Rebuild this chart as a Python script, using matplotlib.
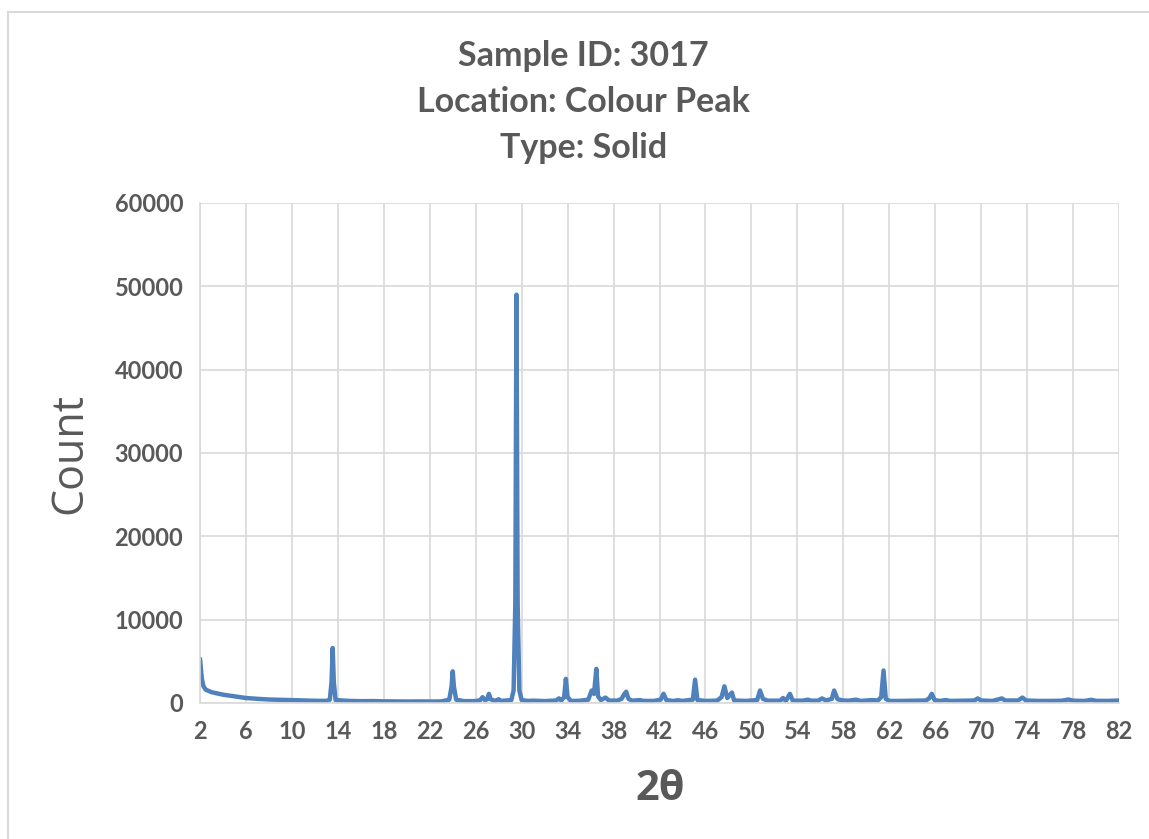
import matplotlib.pyplot as plt
from matplotlib.lines import Line2D

# diffraction trace (2theta, count)
two_theta = [2.0, 2.05, 2.15, 2.3, 2.5, 3.0, 3.5, 4.0, 4.5, 5.0, 5.5, 6.0, 7.0, 8.0, 9.0, 10.0, 11.0, 12.0, 13.0,
             13.3, 13.45, 13.55, 13.65, 13.8, 15.0, 16.0, 17.0, 18.0, 19.0, 20.0, 21.0, 22.0, 23.0,
             23.7, 23.9, 24.0, 24.1, 24.3, 25.0, 26.0, 26.4, 26.6, 26.8, 27.0, 27.15, 27.3, 27.7, 28.0, 28.2,
             29.1, 29.3, 29.45, 29.55, 29.65, 29.8, 30.0, 30.5, 31.0, 32.0, 33.0, 33.25, 33.45, 33.7, 33.85, 34.0,
             34.3, 35.0, 35.8, 36.1, 36.3, 36.5, 36.65, 36.9, 37.3, 37.6, 38.3, 38.7, 38.9, 39.1, 39.3, 39.6,
             40.3, 40.6, 41.5, 42.1, 42.35, 42.6, 43.2, 43.6, 44.0, 44.9, 45.1, 45.3, 46.0, 47.0, 47.4, 47.65,
             47.9, 48.3, 48.5, 49.5, 50.5, 50.75, 51.0, 51.4, 52.5, 52.75, 53.0, 53.35, 53.6, 54.5, 54.9, 55.2,
             55.8, 56.15, 56.5, 57.0, 57.2, 57.5, 58.0, 58.5, 59.1, 59.5, 60.0, 60.5, 61.0, 61.3, 61.5, 61.7,
             62.0, 63.0, 64.0, 65.2, 65.5, 65.7, 65.95, 66.4, 66.9, 67.3, 68.5, 69.4, 69.7, 70.0, 71.0, 71.8,
             72.1, 73.2, 73.6, 73.9, 75.0, 76.0, 77.0, 77.6, 78.0, 79.0, 79.6, 80.0, 81.0, 82.0]
counts = [5300, 4600, 3000, 2000, 1600, 1300, 1150, 1000, 900, 800, 700, 600, 500, 420, 380, 330, 300, 270, 250,
          400, 2500, 6600, 2500, 350, 250, 220, 230, 200, 190, 180, 190, 180, 190,
          400, 2000, 3800, 2000, 400, 220, 230, 350, 700, 350, 450, 1100, 450, 250, 450, 250,
          350, 1500, 12000, 49000, 12000, 1500, 350, 250, 280, 230, 300, 550, 300, 700, 2900, 700,
          250, 260, 400, 1500, 1100, 4100, 800, 350, 650, 300, 280, 500, 1000, 1350, 500, 280,
          350, 250, 250, 400, 1100, 350, 250, 330, 250, 400, 2800, 350, 250, 280, 700, 2000,
          600, 1250, 300, 250, 350, 1500, 500, 280, 280, 600, 250, 1100, 280, 280, 400, 280,
          280, 550, 300, 500, 1500, 450, 300, 280, 400, 250, 300, 350, 300, 700, 3900, 500,
          250, 250, 270, 300, 600, 1100, 350, 250, 350, 250, 280, 300, 550, 300, 250, 550,
          300, 300, 650, 300, 250, 250, 270, 420, 280, 250, 380, 260, 250, 300]

x_ticks = list(range(2, 83, 4))
y_ticks = list(range(0, 60001, 10000))

grey = '#595959'
grid = '#d9d9d9'
fam = ['Lato', 'DejaVu Sans']

fig = plt.figure(figsize=(11.49, 8.39), dpi=100)
ax = fig.add_axes([200 / 1149, 1 - 703 / 839, 919 / 1149, 500 / 839])

ax.plot(two_theta, counts, color='#4f81bd', lw=3.2, solid_joinstyle='round', solid_capstyle='round')

ax.set_xlim(2, 82)
ax.set_ylim(0, 60000)
ax.set_xticks(x_ticks)
ax.set_yticks(y_ticks)
ax.grid(True, color=grid, lw=1.2)
ax.set_axisbelow(True)
ax.tick_params(length=0, labelsize=17, labelcolor=grey, pad=12)
for lab in ax.get_xticklabels() + ax.get_yticklabels():
    lab.set_fontweight('bold')
    lab.set_family(fam)
for s in ['top', 'right']:
    ax.spines[s].set_visible(False)
for s in ['left', 'bottom']:
    ax.spines[s].set_color(grid)
    ax.spines[s].set_linewidth(1.2)

fig.text(0.508, 1 - 102 / 839, 'Sample ID: 3017\nLocation: Colour Peak\nType: Solid',
         ha='center', va='center', fontsize=24.5, fontweight='bold', color=grey,
         family=fam, linespacing=1.55)
fig.text(660 / 1149, 1 - 790 / 839, '2θ', ha='center', va='center', fontsize=30,
         fontweight='bold', color=grey, family=['Open Sans', 'DejaVu Sans'])
fig.text(70 / 1149, 1 - 453 / 839, 'Count', ha='center', va='center', rotation=90,
         fontsize=31, color=grey, family=['Open Sans', 'DejaVu Sans'])

# chart area border (left and top edges visible)
fig.add_artist(Line2D([8 / 1149, 8 / 1149], [0, 1 - 12 / 839], transform=fig.transFigure, color=grid, lw=1.5))
fig.add_artist(Line2D([8 / 1149, 1], [1 - 12 / 839, 1 - 12 / 839], transform=fig.transFigure, color=grid, lw=1.5))

fig.savefig('out.png', dpi=100)
